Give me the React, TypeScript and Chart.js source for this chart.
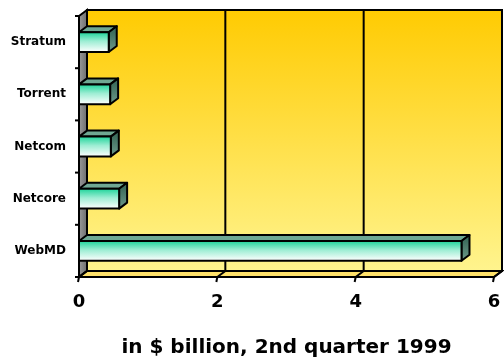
import React, { useEffect, useRef } from "react";
import { Chart, registerables } from "chart.js";

Chart.register(...registerables);

const categories = ["Stratum", "Torrent", "Netcom", "Netcore", "WebMD"];
const values = [0.43, 0.45, 0.46, 0.58, 5.53];
const xTickValues = [0, 2, 4, 6];
const axisTitle = "in $ billion, 2nd quarter 1999";

const DX = 8;
const DY = 6;

const threeD = {
  id: "threeD",
  beforeDatasetsDraw(chart: any) {
    const { ctx, chartArea: ca } = chart;
    const xs = chart.scales.x;
    ctx.save();
    // back wall
    const g = ctx.createLinearGradient(0, ca.top - DY, 0, ca.bottom - DY);
    g.addColorStop(0, "#FFCB02");
    g.addColorStop(1, "#FFF48E");
    ctx.fillStyle = g;
    ctx.fillRect(ca.left + DX, ca.top - DY, ca.right - ca.left, ca.bottom - ca.top);
    ctx.lineWidth = 2;
    ctx.strokeStyle = "#000";
    ctx.strokeRect(ca.left + DX, ca.top - DY, ca.right - ca.left, ca.bottom - ca.top);
    // left wall
    const gw = ctx.createLinearGradient(ca.left, 0, ca.left + DX, 0);
    gw.addColorStop(0, "#9a9a9a");
    gw.addColorStop(1, "#6e6e6e");
    ctx.beginPath();
    ctx.moveTo(ca.left, ca.top);
    ctx.lineTo(ca.left + DX, ca.top - DY);
    ctx.lineTo(ca.left + DX, ca.bottom - DY);
    ctx.lineTo(ca.left, ca.bottom);
    ctx.closePath();
    ctx.fillStyle = gw;
    ctx.fill();
    ctx.stroke();
    // floor
    ctx.beginPath();
    ctx.moveTo(ca.left, ca.bottom);
    ctx.lineTo(ca.left + DX, ca.bottom - DY);
    ctx.lineTo(ca.right + DX, ca.bottom - DY);
    ctx.lineTo(ca.right, ca.bottom);
    ctx.closePath();
    ctx.fillStyle = "#FFE16A";
    ctx.fill();
    ctx.stroke();
    // grid lines
    xTickValues.forEach((v) => {
      const px = xs.getPixelForValue(v);
      ctx.beginPath();
      ctx.moveTo(px + DX, ca.top - DY);
      ctx.lineTo(px + DX, ca.bottom - DY);
      ctx.lineTo(px, ca.bottom);
      ctx.stroke();
    });
    // front axes
    ctx.beginPath();
    ctx.moveTo(ca.left, ca.top);
    ctx.lineTo(ca.left, ca.bottom);
    ctx.lineTo(ca.right, ca.bottom);
    ctx.stroke();
    // y ticks at category boundaries
    const ys = chart.scales.y;
    const n = categories.length;
    const band = (ca.bottom - ca.top) / n;
    for (let i = 0; i <= n; i++) {
      const py = i < n ? ys.getPixelForValue(i) - band / 2 : ys.getPixelForValue(n - 1) + band / 2;
      ctx.beginPath();
      ctx.moveTo(ca.left - 4, py);
      ctx.lineTo(ca.left, py);
      ctx.stroke();
    }
    // x ticks
    xTickValues.forEach((v) => {
      const px = xs.getPixelForValue(v);
      ctx.beginPath();
      ctx.moveTo(px, ca.bottom);
      ctx.lineTo(px - 1, ca.bottom + 5);
      ctx.stroke();
    });
    ctx.restore();
  },
  afterDatasetsDraw(chart: any) {
    const { ctx } = chart;
    const meta = chart.getDatasetMeta(0);
    ctx.save();
    ctx.lineWidth = 2;
    ctx.strokeStyle = "#000";
    ctx.lineJoin = "round";
    meta.data.forEach((el: any) => {
      const { x, y, base, height } = el.getProps(["x", "y", "base", "height"], true);
      const top = y - height / 2;
      const bottom = y + height / 2;
      // top face
      ctx.beginPath();
      ctx.moveTo(base, top);
      ctx.lineTo(base + DX, top - DY);
      ctx.lineTo(x + DX, top - DY);
      ctx.lineTo(x, top);
      ctx.closePath();
      ctx.fillStyle = "#6FA893";
      ctx.fill();
      ctx.stroke();
      // side face
      const gs = ctx.createLinearGradient(0, top, 0, bottom);
      gs.addColorStop(0, "#3E6E5E");
      gs.addColorStop(1, "#6E9A8A");
      ctx.beginPath();
      ctx.moveTo(x, top);
      ctx.lineTo(x + DX, top - DY);
      ctx.lineTo(x + DX, bottom - DY);
      ctx.lineTo(x, bottom);
      ctx.closePath();
      ctx.fillStyle = gs;
      ctx.fill();
      ctx.stroke();
      // front face
      const gf = ctx.createLinearGradient(0, top, 0, bottom);
      gf.addColorStop(0, "#1ED49A");
      gf.addColorStop(0.45, "#9CEDD3");
      gf.addColorStop(1, "#FFFFFF");
      ctx.fillStyle = gf;
      ctx.fillRect(base, top, x - base, bottom - top);
      ctx.strokeRect(base, top, x - base, bottom - top);
    });
    ctx.restore();
  },
};

export default function App() {
  const ref = useRef<HTMLCanvasElement>(null);
  useEffect(() => {
    document.body.style.margin = "0";
    Chart.defaults.font.family = "'DejaVu Sans', Verdana, sans-serif";
    const chart = new Chart(ref.current as HTMLCanvasElement, {
      type: "bar",
      data: {
        labels: categories,
        datasets: [
          {
            data: values,
            backgroundColor: "rgba(0,0,0,0)",
            borderWidth: 0,
            categoryPercentage: 1,
            barPercentage: 0.38,
          },
        ],
      },
      options: {
        indexAxis: "y",
        animation: false,
        responsive: false,
        devicePixelRatio: 1,
        layout: { padding: { top: 16, right: 10, left: 0, bottom: 0 } },
        plugins: { legend: { display: false }, tooltip: { enabled: false } },
        scales: {
          x: {
            min: 0,
            max: 6,
            afterFit: (s: any) => {
              s.height = 83;
              s.paddingLeft = 0;
              s.paddingRight = 0;
            },
            afterBuildTicks: (s: any) => {
              s.ticks = xTickValues.map((v) => ({ value: v }));
            },
            grid: { display: false, drawTicks: false },
            border: { display: false },
            ticks: {
              padding: 15,
              color: "#000",
              font: { size: 18, weight: "bold" },
              maxRotation: 0,
            },
            title: {
              display: true,
              text: axisTitle,
              color: "#000",
              font: { size: 20, weight: "bold" },
              padding: { top: 0, bottom: 0 },
            },
          },
          y: {
            afterFit: (s: any) => {
              s.width = 79;
              s.paddingTop = 0;
              s.paddingBottom = 0;
            },
            grid: { display: false, drawTicks: false },
            border: { display: false },
            ticks: {
              padding: 13,
              color: "#000",
              font: { size: 12, weight: "bold" },
            },
          },
        },
      },
      plugins: [threeD],
    } as any);
    return () => chart.destroy();
  }, []);
  return (
    <div style={{ width: 504, height: 360 }}>
      <canvas ref={ref} width={504} height={360} style={{ display: "block" }} />
    </div>
  );
}
